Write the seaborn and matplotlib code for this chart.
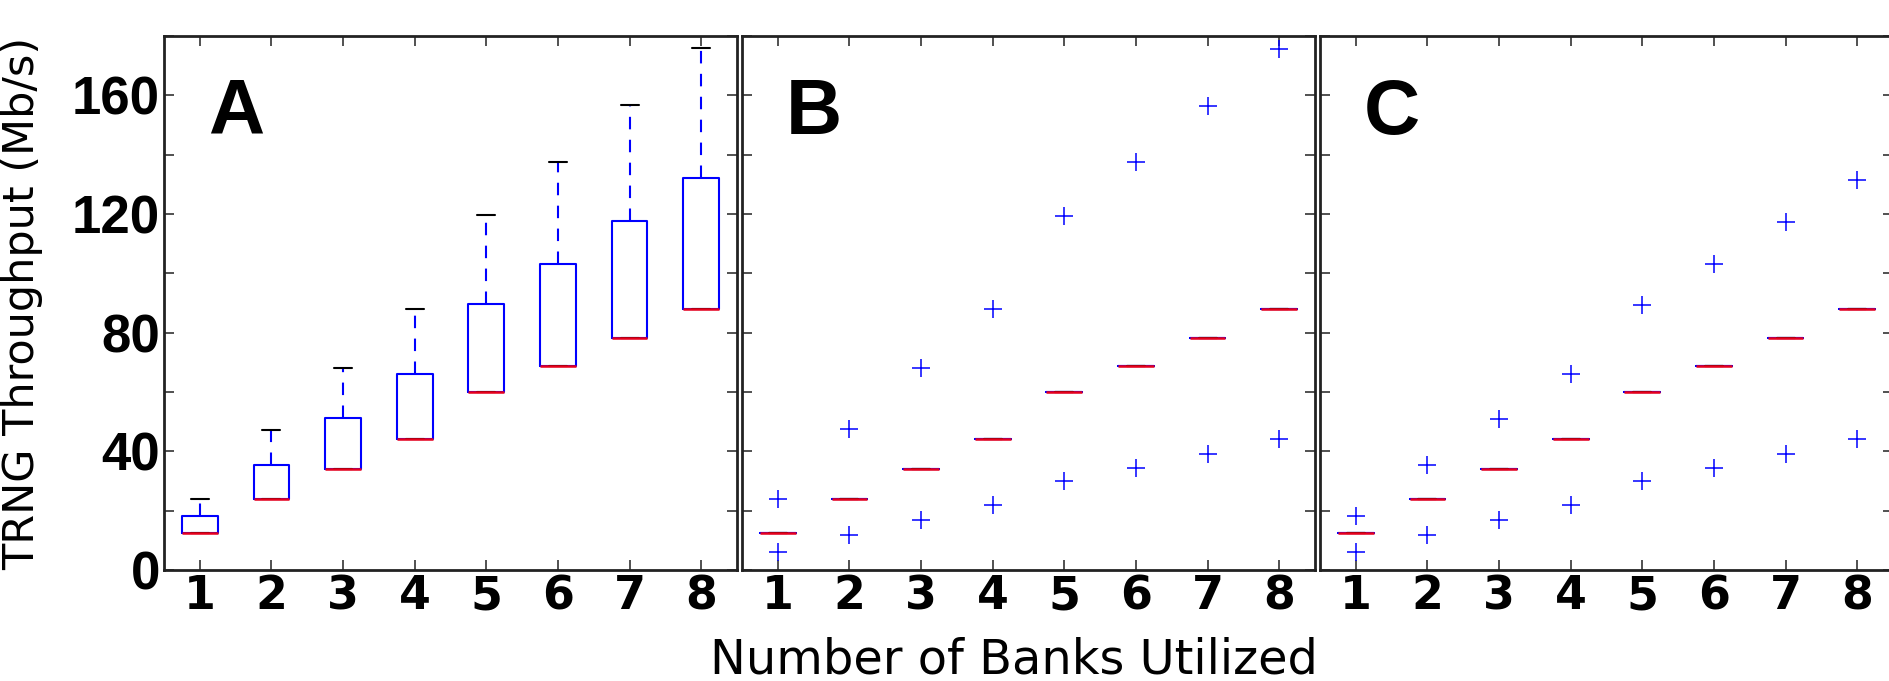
import numpy as np
import pandas as pd
import matplotlib
matplotlib.use("Agg")
import matplotlib.pyplot as plt
import seaborn as sns

# ---- values ----
banks = [1, 2, 3, 4, 5, 6, 7, 8]
medians = [12.4, 23.9, 34.1, 44.0, 59.9, 68.9, 78.3, 88.0]          # also Q1 in panel A
a_q3 = [18.2, 35.5, 51.2, 66.1, 89.5, 103.2, 117.7, 132.0]
a_max = [24.1, 47.2, 68.0, 88.0, 119.5, 137.5, 156.6, 175.9]
b_high = [24.1, 47.4, 68.0, 88.0, 119.4, 137.4, 156.5, 175.7]
b_low = [6.2, 11.9, 17.0, 21.9, 29.9, 34.5, 39.1, 44.0]
c_high = [18.1, 35.5, 51.0, 66.1, 89.4, 103.2, 117.4, 131.6]
c_low = [6.2, 11.9, 17.0, 21.9, 29.9, 34.5, 39.1, 44.0]
panel_letters = ["A", "B", "C"]
y_ticks = [0, 20, 40, 60, 80, 100, 120, 140, 160, 180]
y_ticklabels = ["0", "", "40", "", "80", "", "120", "", "160", ""]


def frame_a():
    rows = []
    for b, m, q3, mx in zip(banks, medians, a_q3, a_max):
        for v in (m, m, m, q3, mx):
            rows.append((b, v))
    return pd.DataFrame(rows, columns=["bank", "value"])


def frame_outl(low, high):
    rows = []
    for b, m, lo, hi in zip(banks, medians, low, high):
        for v in (lo, m, m, m, hi):
            rows.append((b, v))
    return pd.DataFrame(rows, columns=["bank", "value"])


frames = [frame_a(), frame_outl(b_low, b_high), frame_outl(c_low, c_high)]

sns.set_theme(style="ticks")
plt.rcParams["font.family"] = ["DejaVu Sans"]
plt.rcParams.update({
    "text.color": "black",
    "axes.labelcolor": "black",
    "xtick.color": "black",
    "ytick.color": "black",
    "xtick.labelcolor": "black",
    "ytick.labelcolor": "black",
})

W, H = 1890, 681
fig = plt.figure(figsize=(W / 100, H / 100), dpi=100)

ax_w = 573 / W
ax_h = 534 / H
ax_b = (H - 570) / H
lefts = [164 / W, 742 / W, 1320 / W]

for i, (df, letter) in enumerate(zip(frames, panel_letters)):
    ax = fig.add_axes([lefts[i], ax_b, ax_w, ax_h])
    sns.boxplot(
        data=df, x="bank", y="value", ax=ax,
        fill=False, color="blue", saturation=1, width=0.5, whis=1.5,
        linewidth=1.5,
        boxprops=dict(color="#0000ff", linewidth=1.5),
        medianprops=dict(color="#e8001c", linewidth=1.8),
        whiskerprops=dict(color="#0000ff", linewidth=1.5, linestyle=(0, (6, 5))),
        capprops=dict(color="black", linewidth=1.5),
        flierprops=dict(marker="+", markersize=13, markeredgewidth=1.1,
                        markeredgecolor="#0000ff", markerfacecolor="none",
                        linestyle="none"),
    )
    ax.set_xlim(-0.5, 7.5)
    ax.set_ylim(0, 180)
    ax.set_xlabel("")
    ax.set_ylabel("")
    ax.set_xticks(range(len(banks)))
    ax.set_xticklabels([str(b) for b in banks], fontfamily="DejaVu Sans",
                       fontweight="bold", fontsize=33, color="black")
    ax.set_yticks(y_ticks)
    if i == 0:
        ax.set_yticklabels(y_ticklabels, fontfamily="Liberation Sans",
                           fontweight="bold", fontsize=38, color="black")
    else:
        ax.set_yticklabels([])
    ax.tick_params(axis="both", direction="in", top=True, right=True,
                   length=7, width=1.2, color="#333333")
    ax.tick_params(axis="x", pad=3)
    ax.tick_params(axis="y", pad=3)
    for sp in ax.spines.values():
        sp.set_visible(True)
        sp.set_linewidth(2.0)
        sp.set_color("#222222")
    ax.text(0.077, 0.8165, letter, transform=ax.transAxes, color="black",
            fontfamily="Liberation Sans", fontweight="bold", fontsize=56,
            ha="left", va="baseline")

fig.text(22 / W, ax_b + ax_h / 2, "TRNG Throughput (Mb/s)", rotation=90,
         ha="center", va="center", fontsize=31, fontfamily="DejaVu Sans",
         color="black")
fig.text(1014 / W, 7 / H, "Number of Banks Utilized", ha="center",
         va="baseline", fontsize=34.5, fontfamily="DejaVu Sans", color="black")

fig.savefig("out.png", dpi=100)
